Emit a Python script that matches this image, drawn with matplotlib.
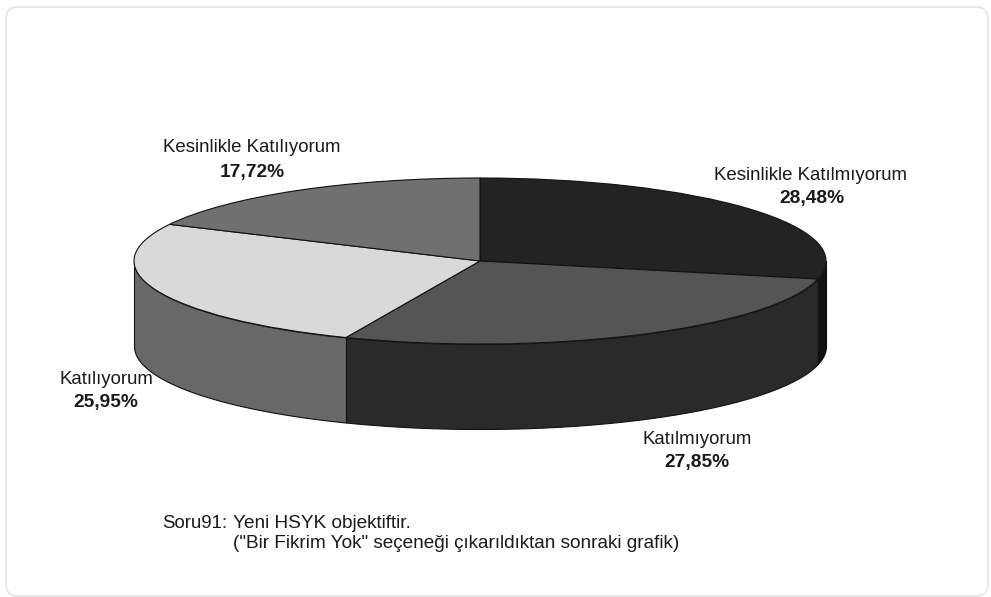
import numpy as np
import matplotlib
matplotlib.use("Agg")
import matplotlib.pyplot as plt
from matplotlib.patches import FancyBboxPatch
from matplotlib.transforms import IdentityTransform

plt.rcParams['font.family'] = ['Liberation Sans', 'DejaVu Sans']

# slices go clockwise from 12 o'clock
labels = ['Kesinlikle Katılmıyorum', 'Katılmıyorum', 'Katılıyorum', 'Kesinlikle Katılıyorum']
values = [28.48, 27.85, 25.95, 17.72]
value_text = ['28,48%', '27,85%', '25,95%', '17,72%']
top_colors = ['#232323', '#555555', '#d9d9d9', '#707070']
side_colors = ['#121212', '#2a2a2a', '#686868', '#383838']

W, H = 991, 597
CX, CY, RX, RY, DEPTH = 480, 261, 346, 83, 85

fig = plt.figure(figsize=(W / 100, H / 100), dpi=100, facecolor='white')

# rounded frame, in pixels. zorder below the axes or it hides the pie
frame = FancyBboxPatch((6 + 12, H - 596 + 12), 982 - 24, 589 - 24,
                       boxstyle='round,pad=12,rounding_size=12',
                       transform=IdentityTransform(), fc='white', ec='#e4e4e4', lw=1.2, zorder=-1)
fig.add_artist(frame)

ax = fig.add_axes([0, 0, 1, 1])
wedges, _ = ax.pie(values, colors=top_colors, startangle=90, counterclock=False,
                   wedgeprops={'edgecolor': '#111111', 'linewidth': 0.8})
for w in wedges:
    w.set_zorder(3)
# squash the round pie to an ellipse
ax.set_aspect('auto')
ax.set_xlim(-CX / RX, (W - CX) / RX)
ax.set_ylim(-(H - CY) / RY, CY / RY)
ax.patch.set_alpha(0)

depth = DEPTH / RY
edges = 90 - 3.6 * np.concatenate([[0], np.cumsum(values)])
for i in range(len(values)):
    # only the front half of the rim shows
    a0 = max(edges[i + 1], -180)
    a1 = min(edges[i], 0)
    if a1 <= a0:
        continue
    t = np.radians(np.linspace(a0, a1, 120))
    ax.fill_between(np.cos(t), np.sin(t), np.sin(t) - depth, facecolor=side_colors[i],
                    edgecolor='#111111', linewidth=0.8, zorder=1)


def put(px, py, s, **kw):
    fig.text(px / W, 1 - py / H, s, color='#1a1a1a', va='center', **kw)


name_pos = [(810, 175), (697, 440), (106, 380), (252, 148)]
val_pos = [(812, 198), (697, 462), (106, 402), (252, 173)]
for i in range(len(labels)):
    put(name_pos[i][0], name_pos[i][1], labels[i], ha='center', fontsize=13.4)
    put(val_pos[i][0], val_pos[i][1], value_text[i], ha='center', fontsize=13.8, fontweight='bold')

put(162, 523, 'Soru91:', ha='left', fontsize=13.4)
put(233, 523, 'Yeni HSYK objektiftir.', ha='left', fontsize=13.7)
put(233, 544, '("Bir Fikrim Yok" seçeneği çıkarıldıktan sonraki grafik)', ha='left', fontsize=13.7)

fig.savefig('out.png', dpi=100)
